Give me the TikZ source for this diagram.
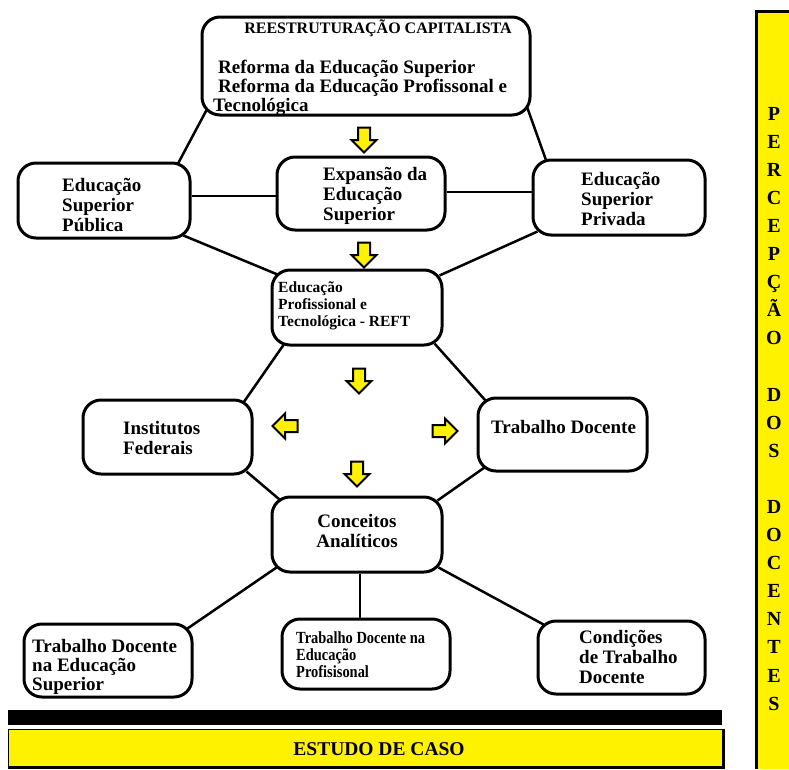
\documentclass[tikz,border=0pt]{standalone}
\usepackage{fontspec}
\setmainfont{Liberation Serif}
\newfontfamily\condfont{Liberation Serif}[FakeStretch=0.85]
\usetikzlibrary{shapes.arrows}
\definecolor{ylw}{RGB}{255,242,0}
\pgfdeclarelayer{bg}
\pgfsetlayers{bg,main}
\begin{document}
\begin{tikzpicture}[x=1pt,y=-1pt,
  box/.style={draw, line width=3pt, rounded corners=18pt, fill=white, inner sep=0pt},
  link/.style={line width=2.5pt},
  txt/.style={anchor=base west, inner sep=0pt, align=left, font=\bfseries\fontsize{19}{20}\selectfont},
  yarrow/.style={single arrow, draw, fill=ylw, line width=2pt, minimum height=25pt,
    inner sep=5pt, single arrow head extend=6.5pt, single arrow head indent=0pt}]
\useasboundingbox (0,0) rectangle (789,769);

% boxes
\node[box, minimum width=328pt, minimum height=98pt] (top) at (366,66) {};
\node[box, minimum width=172pt, minimum height=75pt] (pub) at (104,200.5) {};
\node[box, minimum width=168pt, minimum height=73pt] (exp) at (361,193.5) {};
\node[box, minimum width=172pt, minimum height=75pt] (priv) at (619,197.5) {};
\node[box, minimum width=170pt, minimum height=75pt] (reft) at (357,307.5) {};
\node[box, minimum width=169pt, minimum height=74pt] (inst) at (167.5,437) {};
\node[box, minimum width=169pt, minimum height=73pt] (trab) at (562.5,434.5) {};
\node[box, minimum width=170pt, minimum height=75pt] (conc) at (357,534.5) {};
\node[box, minimum width=168pt, minimum height=73pt] (bl) at (108,660.5) {};
\node[box, minimum width=168pt, minimum height=70pt] (bm) at (366,654) {};
\node[box, minimum width=167pt, minimum height=73pt] (br) at (621.5,657.5) {};

% connectors
\begin{pgfonlayer}{bg}
\draw[link] ([shift={(9,-12)}]top.south west) -- ([shift={(-14,3)}]pub.north east);
\draw[link] ([shift={(-5,-11)}]top.south east) -- ([shift={(15,3)}]priv.north west);
\draw[link] ([yshift=4.5pt]pub.east) -- ([yshift=-2.5pt]exp.west);
\draw[link] ([yshift=1.5pt]exp.east) -- ([yshift=5.5pt]priv.west);
\draw[link] ([shift={(-8,-4)}]pub.south east) -- ([shift={(7,6)}]reft.north west);
\draw[link] ([shift={(6,-5)}]priv.south west) -- ([shift={(-4,7)}]reft.north east);
\draw[link] ([shift={(14,-3)}]reft.south west) -- ([shift={(-10,4)}]inst.north east);
\draw[link] ([shift={(-9,-3)}]reft.south east) -- ([shift={(9,4)}]trab.north west);
\draw[link] ([shift={(-7,-4)}]inst.south east) -- ([shift={(9,4)}]conc.north west);
\draw[link] ([shift={(8,-5)}]trab.south west) -- ([shift={(-6,5)}]conc.north east);
\draw[link] ([shift={(6,-6)}]conc.south west) -- ([shift={(-6,6)}]bl.north east);
\draw[link] ([xshift=3pt]conc.south) -- ([xshift=3pt]conc.south |- bm.north);
\draw[link] ([shift={(-5,-6)}]conc.south east) -- ([shift={(7,5)}]br.north west);
\end{pgfonlayer}

% texts (multi-line nodes: base = last line)
\node[anchor=base, inner sep=0pt, font=\bfseries\fontsize{16}{18}\selectfont] (ttl) at (378,33) {REESTRUTURAÇÃO CAPITALISTA};
\node[txt, font=\bfseries\fontsize{19}{19}\selectfont] (reformas) at (213,111) {\hspace*{5pt}Reforma da Educação Superior\\\hspace*{5pt}Reforma da Educação Profissonal e\\Tecnológica};
\node[txt] (pubt) at (62,231) {Educação\\Superior\\Pública};
\node[txt] (expt) at (323,220) {Expansão da\\Educação\\Superior};
\node[txt] (privt) at (581,225) {Educação\\Superior\\Privada};
\node[txt, font=\bfseries\fontsize{15.5}{17}\selectfont] (reftt) at (278,326) {Educação\\Profissional e\\Tecnológica - REFT};
\node[txt] (instt) at (123,454) {Institutos\\Federais};
\node[txt] (trabt) at (491,433) {Trabalho Docente};
\node[txt, anchor=base, align=center] (conct) at (357,547) {Conceitos\\Analíticos};
\node[txt, font=\bfseries\fontsize{19}{19}\selectfont] (blt) at (32,690) {Trabalho Docente\\na Educação\\Superior};
\node[txt, font=\condfont\bfseries\fontsize{17}{17}\selectfont] (bmt) at (296,677) {Trabalho Docente na\\Educação\\Profisisonal};
\node[txt] (brt) at (579,683) {Condições\\de Trabalho\\Docente};

% yellow block arrows
\node[yarrow, rotate=-90] (a1) at (364,137) {};
\node[yarrow, rotate=-90] (a2) at (364,252) {};
\node[yarrow, rotate=-90] (a3) at (359,378) {};
\node[yarrow, rotate=180] (a4) at (288,426) {};
\node[yarrow] (a5) at (442,431) {};
\node[yarrow, rotate=-90] (a6) at (357,471) {};

% bottom bars
\fill (8,710) rectangle (722,725);
\node[draw, line width=1pt, fill=ylw, minimum width=715pt, minimum height=38pt, inner sep=0pt] (caso) at (365.5,748) {};
\draw[line width=3pt] (caso.north east) -- (caso.south east) -- (caso.south west);
\node[anchor=base, inner sep=0pt, font=\bfseries\fontsize{19.5}{20}\selectfont] (casot) at (379,755) {ESTUDO DE CASO};

% right bar
\node[fill=ylw, minimum width=34pt, minimum height=757pt, inner sep=0pt] (perc) at (774,390.5) {};
\draw[line width=3pt] (perc.south west) -- (perc.north west) -- (perc.north east);
\node[anchor=base, inner sep=0pt, text width=30pt, align=center, font=\bfseries\fontsize{20}{28.1}\selectfont] (perct) at (774,120) {P\\E\\R\\C\\E\\P\\Ç\\Ã\\O\\~\\D\\O\\S\\~\\D\\O\\C\\E\\N\\T\\E\\S};
\end{tikzpicture}
\end{document}
